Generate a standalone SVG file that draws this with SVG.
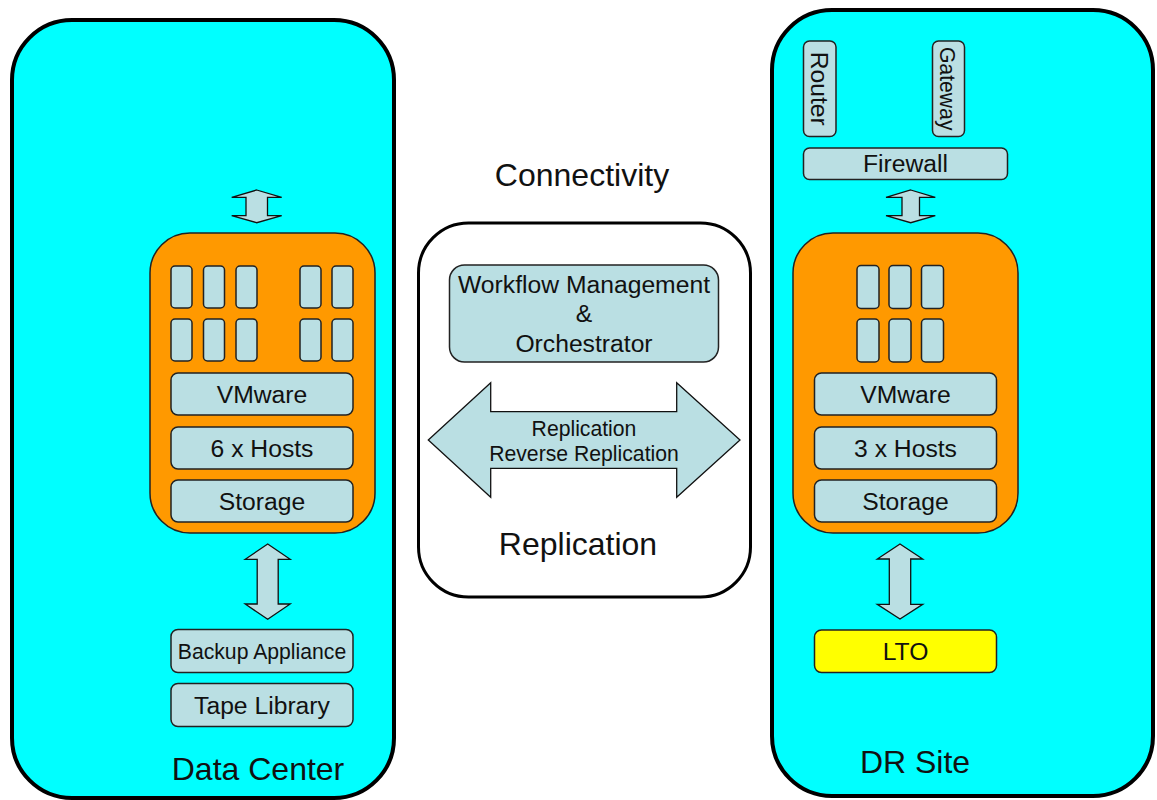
<svg xmlns="http://www.w3.org/2000/svg" width="1157" height="800" viewBox="0 0 1157 800">
<style>
.site{fill:#00ffff;stroke:#000;stroke-width:4}
.orange{fill:#ff9900;stroke:#222;stroke-width:1.5}
.bx{fill:#badfe3;stroke:#222;stroke-width:1.5}
.lto{fill:#ffff00;stroke:#222;stroke-width:1.5}
.arr{fill:#badfe3;stroke:#111;stroke-width:1.3;stroke-linejoin:miter}
.center{fill:#fff;stroke:#000;stroke-width:3}
text{font-family:"Liberation Sans",Arial,sans-serif;fill:#111;text-anchor:middle}
.t24{font-size:24.7px}
.t21{font-size:21.2px}
.t32{font-size:32px}
</style>
<rect width="1157" height="800" fill="#fff"/>

<g id="data-center">
<rect class="site" x="12" y="20" width="382" height="778" rx="60"/>
<text class="t32" x="258" y="780">Data Center</text>
</g>

<g id="dr-site">
<rect class="site" x="772" y="10" width="381" height="786" rx="60"/>
<text class="t32" x="915" y="773">DR Site</text>
</g>

<g id="dc-cluster">
<rect class="orange" x="150" y="233" width="225" height="300" rx="40"/>
<rect class="bx" x="171" y="266" width="21" height="42" rx="4"/>
<rect class="bx" x="203.5" y="266" width="21" height="42" rx="4"/>
<rect class="bx" x="236" y="266" width="21" height="42" rx="4"/>
<rect class="bx" x="300" y="266" width="21" height="42" rx="4"/>
<rect class="bx" x="332" y="266" width="21" height="42" rx="4"/>
<rect class="bx" x="171" y="319" width="21" height="42" rx="4"/>
<rect class="bx" x="203.5" y="319" width="21" height="42" rx="4"/>
<rect class="bx" x="236" y="319" width="21" height="42" rx="4"/>
<rect class="bx" x="300" y="319" width="21" height="42" rx="4"/>
<rect class="bx" x="332" y="319" width="21" height="42" rx="4"/>
</g>
<g id="dc-vmware">
<rect class="bx" x="171" y="373" width="182" height="42" rx="7"/>
<text class="t24" x="262" y="402.8">VMware</text>
</g>
<g id="dc-hosts">
<rect class="bx" x="171" y="427" width="182" height="42" rx="7"/>
<text class="t24" x="262" y="456.8">6 x Hosts</text>
</g>
<g id="dc-storage">
<rect class="bx" x="171" y="480" width="182" height="42" rx="7"/>
<text class="t24" x="262" y="509.8">Storage</text>
</g>
<g id="dc-backup">
<rect class="bx" x="171" y="629.5" width="182" height="43" rx="7"/>
<text class="t21" x="262" y="658.7">Backup Appliance</text>
</g>
<g id="dc-tape">
<rect class="bx" x="171" y="683.5" width="182" height="43" rx="7"/>
<text class="t24" x="262" y="713.8">Tape Library</text>
</g>

<g id="dr-router">
<rect class="bx" x="803.5" y="41" width="32.5" height="95.5" rx="6"/>
<text class="t24" transform="translate(819.7,88.7) rotate(90)" x="0" y="8.8">Router</text>
</g>
<g id="dr-gateway">
<rect class="bx" x="932.5" y="41" width="32" height="95.5" rx="6"/>
<text class="t21" transform="translate(948,88.7) rotate(90)" x="0" y="7.6">Gateway</text>
</g>
<g id="dr-firewall">
<rect class="bx" x="803.5" y="148" width="204" height="31.5" rx="6"/>
<text class="t24" x="905.5" y="172.3">Firewall</text>
</g>
<g id="dr-cluster">
<rect class="orange" x="793" y="233" width="225" height="300" rx="40"/>
<rect class="bx" x="857" y="265.5" width="22" height="43" rx="4"/>
<rect class="bx" x="889" y="265.5" width="22" height="43" rx="4"/>
<rect class="bx" x="921.5" y="265.5" width="22" height="43" rx="4"/>
<rect class="bx" x="857" y="319" width="22" height="43" rx="4"/>
<rect class="bx" x="889" y="319" width="22" height="43" rx="4"/>
<rect class="bx" x="921.5" y="319" width="22" height="43" rx="4"/>
</g>
<g id="dr-vmware">
<rect class="bx" x="814.5" y="373" width="182" height="42" rx="7"/>
<text class="t24" x="905.5" y="402.8">VMware</text>
</g>
<g id="dr-hosts">
<rect class="bx" x="814.5" y="427" width="182" height="42" rx="7"/>
<text class="t24" x="905.5" y="456.8">3 x Hosts</text>
</g>
<g id="dr-storage">
<rect class="bx" x="814.5" y="480" width="182" height="42" rx="7"/>
<text class="t24" x="905.5" y="509.8">Storage</text>
</g>
<g id="dr-lto">
<rect class="lto" x="814.5" y="630" width="182" height="42.5" rx="7"/>
<text class="t24" x="905.5" y="660.2">LTO</text>
</g>

<g id="replication">
<rect class="center" x="418.5" y="223" width="332" height="374" rx="50"/>
<text class="t32" x="578" y="555">Replication</text>
</g>
<g id="workflow">
<rect class="bx" x="449.5" y="265" width="269" height="97" rx="15"/>
<text class="t24" x="584" y="292.7">Workflow Management</text>
<text class="t24" x="584" y="322">&amp;</text>
<text class="t24" x="584" y="351.7">Orchestrator</text>
</g>
<text class="t32" x="582" y="186">Connectivity</text>

<g id="connectors">
<polygon class="arr" points="256.7,190 281.7,197.3 267.5,197.3 267.5,215.7 281.7,215.7 256.7,222.7 231.7,215.7 246,215.7 246,197.3 231.7,197.3"/>
<polygon class="arr" points="267.7,544 290.2,559.3 278.2,559.3 278.2,604 290.2,604 267.7,619.3 245.2,604 257.2,604 257.2,559.3 245.2,559.3"/>
<polygon class="arr" points="910.7,190 935.3,197.3 919.5,197.3 919.5,215.7 935.3,215.7 910.7,222.7 886,215.7 902,215.7 902,197.3 886,197.3"/>
<polygon class="arr" points="900,544 922.7,559 910.7,559 910.7,604.3 922.7,604.3 900,619 877.3,604.3 889.3,604.3 889.3,559 877.3,559"/>
<polygon class="arr" points="428.3,440 490.7,382.7 490.7,411.7 676.7,411.7 676.7,382.7 740,440 676.7,497.3 676.7,468.3 490.7,468.3 490.7,497.3"/>
<text class="t21" x="584" y="435.5">Replication</text>
<text class="t21" x="584" y="460.5">Reverse Replication</text>
</g>
</svg>
